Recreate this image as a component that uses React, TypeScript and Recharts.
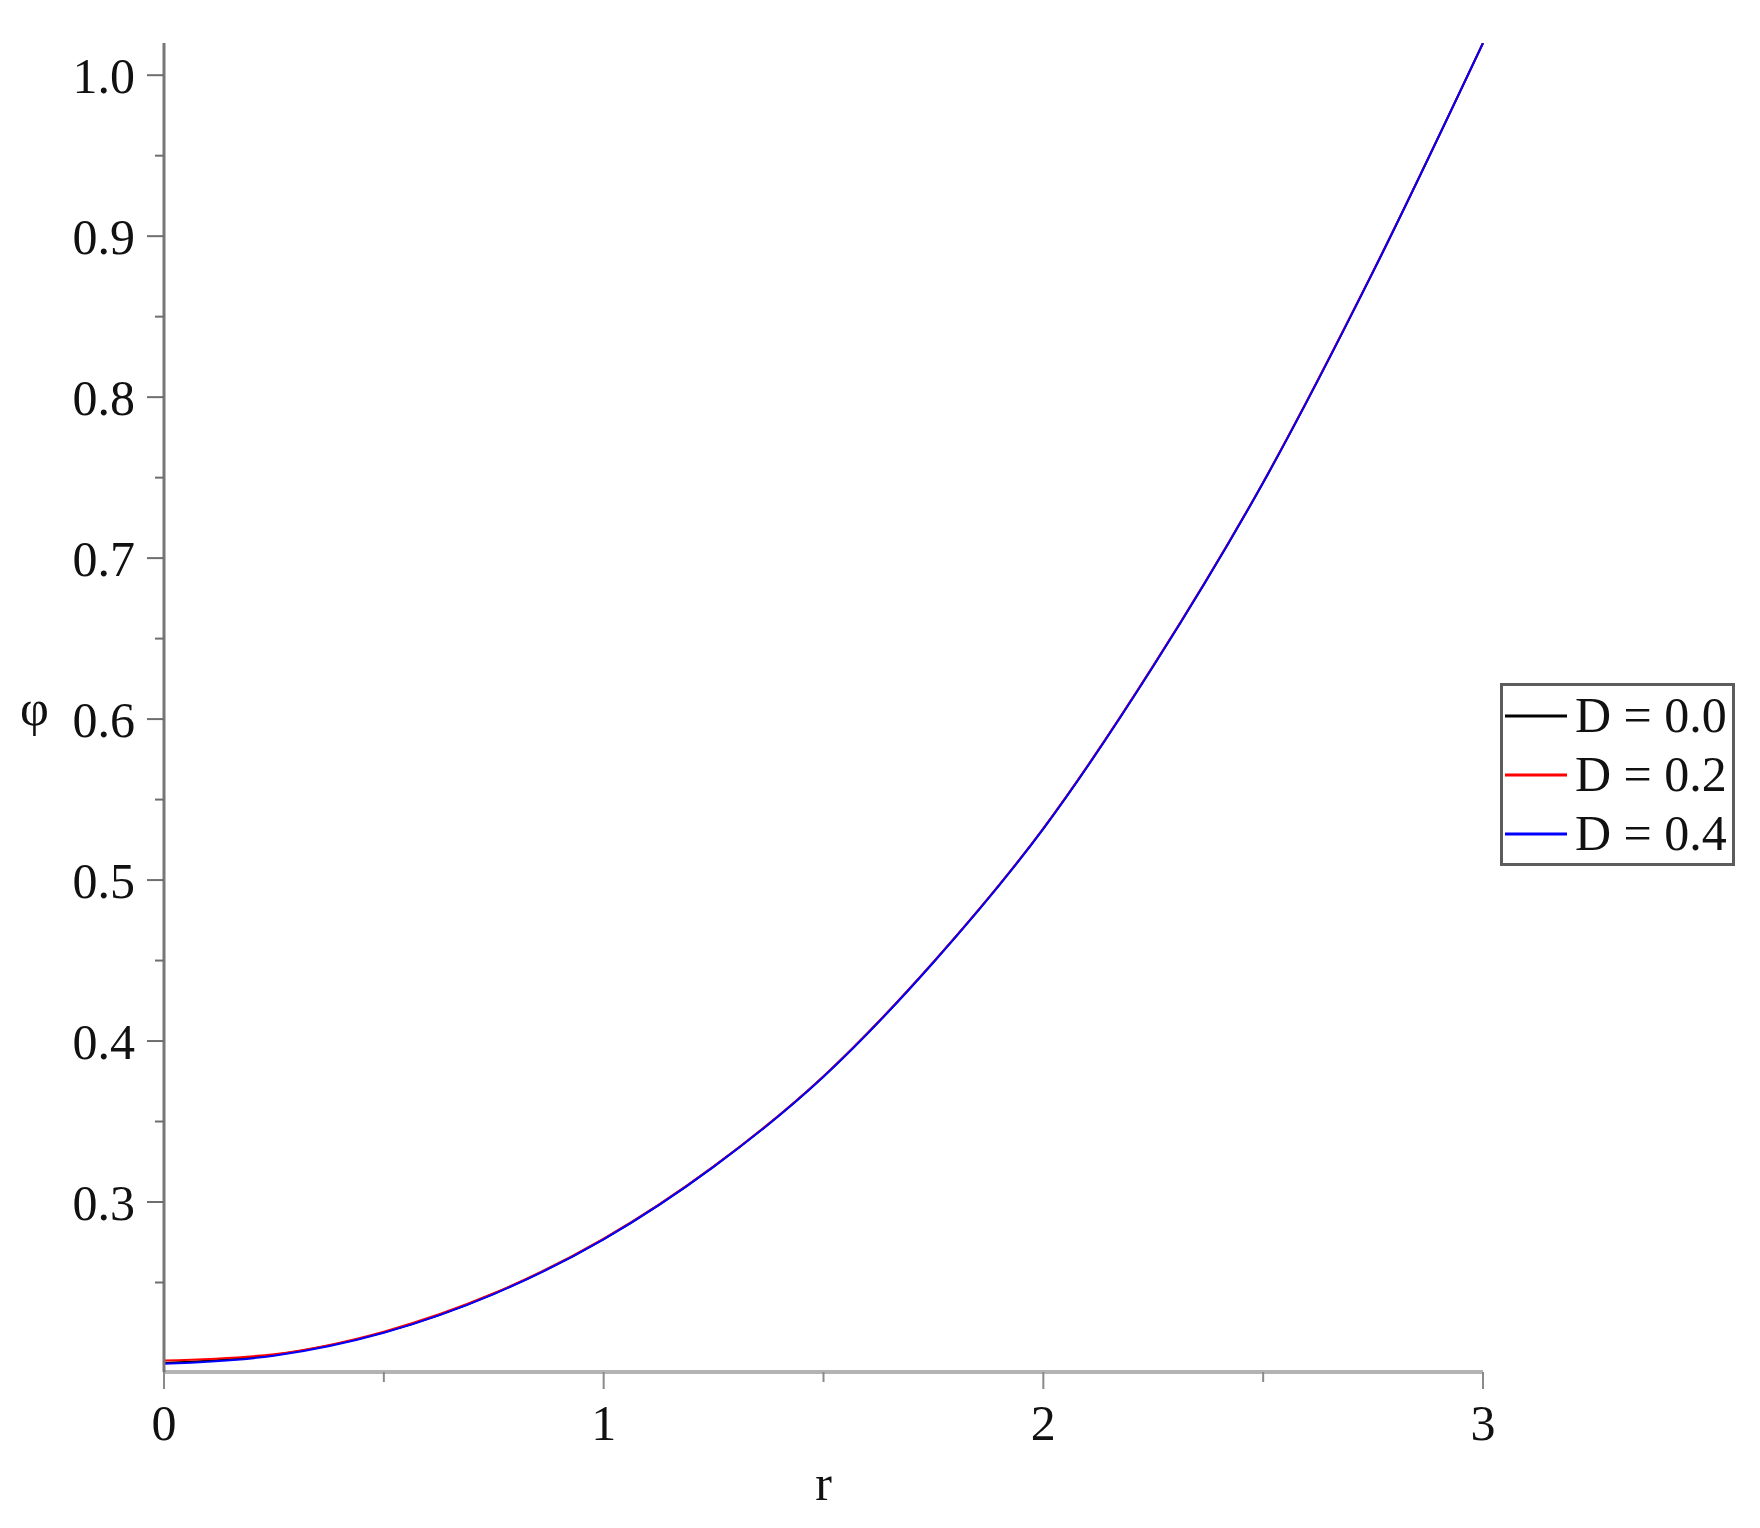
import { LineChart, Line, XAxis, YAxis, Legend } from "recharts";

// radius values sampled along the x axis
const rValues = [0, 0.25, 0.5, 0.75, 1, 1.25, 1.5, 1.75, 2, 2.25, 2.5, 2.75, 3];

// phi for each D (the three curves sit almost on top of each other)
const phiD00 = [0.2, 0.205, 0.219, 0.243, 0.277, 0.322, 0.378, 0.449, 0.532, 0.633, 0.747, 0.878, 1.02];
const phiD02 = [0.2015, 0.2055, 0.2195, 0.2433, 0.2773, 0.3222, 0.3782, 0.4492, 0.5322, 0.6332, 0.7472, 0.8782, 1.02];
const phiD04 = [0.1995, 0.2045, 0.2188, 0.2428, 0.2768, 0.3218, 0.3778, 0.4488, 0.5318, 0.6328, 0.7468, 0.8778, 1.02];

const seriesNames = ["D = 0.0", "D = 0.2", "D = 0.4"];
const seriesKeys = ["d00", "d02", "d04"];
const seriesColors = ["#000000", "#ff0000", "#0000ff"];

const xTicks = [0, 0.5, 1, 1.5, 2, 2.5, 3];
const yTicks = [0.25, 0.3, 0.35, 0.4, 0.45, 0.5, 0.55, 0.6, 0.65, 0.7, 0.75, 0.8, 0.85, 0.9, 0.95, 1.0];

const data = rValues.map((r, i) => ({
  r,
  d00: phiD00[i],
  d02: phiD02[i],
  d04: phiD04[i],
}));

const FONT = "'Liberation Serif', 'DejaVu Serif', serif";
const TICK_SIZE = 17;
const X_MARGIN = 15;
const Y_MARGIN = 12;

const XTick = (props: any) => {
  const { x, y, payload } = props;
  const v = payload.value;
  const major = Math.abs(v - Math.round(v)) < 1e-6;
  const y0 = y - X_MARGIN - TICK_SIZE;
  return (
    <g>
      <line x1={x} x2={x} y1={y0} y2={y0 + (major ? TICK_SIZE : 10)} stroke="#8a8a8a" strokeWidth={2} />
      {major && (
        <text x={x} y={y} dy="0.71em" textAnchor="middle" fontFamily={FONT} fontSize={50} fill="#111">
          {String(v)}
        </text>
      )}
    </g>
  );
};

const YTick = (props: any) => {
  const { x, y, payload } = props;
  const v = payload.value;
  const major = Math.abs(v * 10 - Math.round(v * 10)) < 1e-6;
  const x0 = x + Y_MARGIN + TICK_SIZE;
  return (
    <g>
      <line x1={x0 - (major ? TICK_SIZE : 9)} x2={x0} y1={y} y2={y} stroke="#6e6e6e" strokeWidth={2} />
      {major && (
        <text x={x} y={y} dy="0.355em" textAnchor="end" fontFamily={FONT} fontSize={50} fill="#111">
          {v.toFixed(1)}
        </text>
      )}
    </g>
  );
};

const renderLegend = (props: any) => {
  const items = props.payload || [];
  return (
    <div
      style={{
        boxSizing: "border-box",
        width: 235,
        border: "3px solid #5c5c5c",
        background: "#fff",
      }}
    >
      {items.map((it: any, i: number) => (
        <div key={i} style={{ display: "flex", alignItems: "center", height: 59 }}>
          <svg width={62} height={6} style={{ marginLeft: 2 }}>
            <line x1={0} x2={62} y1={3} y2={3} stroke={it.color} strokeWidth={3} />
          </svg>
          <span style={{ marginLeft: 8, fontFamily: FONT, fontSize: 50, lineHeight: "59px", color: "#111" }}>
            {it.value}
          </span>
        </div>
      ))}
    </div>
  );
};

export default function App() {
  return (
    <div style={{ position: "absolute", left: 0, top: 0, width: 1760, height: 1528, background: "#fff" }}>
      <LineChart width={1760} height={1528} data={data} margin={{ top: 43, right: 277, bottom: 0, left: 0 }}>
        <XAxis
          type="number"
          dataKey="r"
          domain={[0, 3]}
          ticks={xTicks}
          height={156}
          tickSize={TICK_SIZE}
          tickMargin={X_MARGIN}
          tickLine={false}
          tick={<XTick />}
          axisLine={{ stroke: "#b3b3b3", strokeWidth: 4 }}
          label={{ value: "r", position: "insideBottom", offset: 28, fontFamily: FONT, fontSize: 50, fill: "#111" }}
        />
        <YAxis
          type="number"
          domain={[0.1944, 1.02]}
          ticks={yTicks}
          width={164}
          tickSize={TICK_SIZE}
          tickMargin={Y_MARGIN}
          tickLine={false}
          tick={<YTick />}
          allowDataOverflow
          axisLine={{ stroke: "#777777", strokeWidth: 3 }}
          label={{ value: "φ", position: "insideLeft", offset: 20, fontFamily: FONT, fontSize: 50, fill: "#111" }}
        />
        <Legend
          layout="horizontal"
          verticalAlign="middle"
          align="center"
          wrapperStyle={{ left: 1500, top: 683, width: 235, height: 184 }}
          content={renderLegend}
        />
        {seriesKeys.map((k, i) => (
          <Line
            key={k}
            type="monotone"
            dataKey={k}
            name={seriesNames[i]}
            stroke={seriesColors[i]}
            strokeWidth={2}
            dot={false}
            isAnimationActive={false}
          />
        ))}
      </LineChart>
    </div>
  );
}
